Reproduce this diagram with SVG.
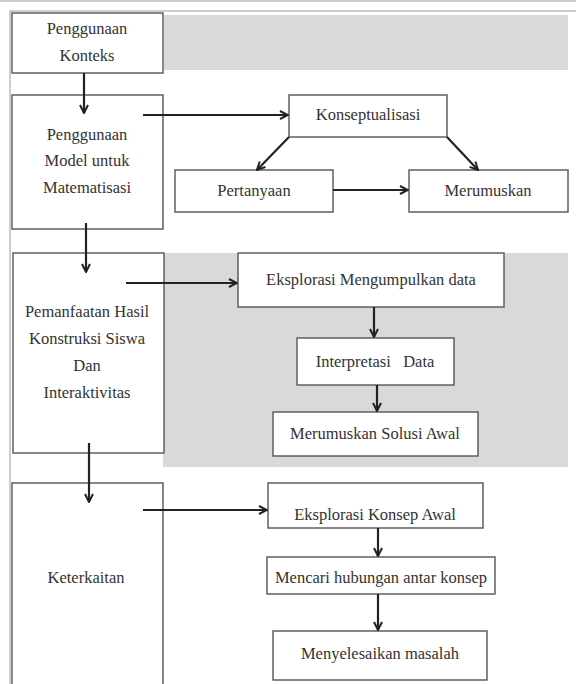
<svg xmlns="http://www.w3.org/2000/svg" width="576" height="684" viewBox="0 0 576 684">
<defs>
<style>
.box{fill:#fff;stroke:#555;stroke-width:1.4}
.band{fill:#d9d9d9;stroke:none}
.frame{stroke:#bdbdbd;stroke-width:1.5;fill:none}
text{font-family:"Liberation Serif",serif;font-size:16.5px;fill:#333;text-anchor:middle}
.c{stroke:#222;stroke-width:2.2;fill:none;marker-end:url(#ah)}
</style>
<marker id="ah" viewBox="0 0 10 10" markerWidth="10" markerHeight="10" refX="9" refY="5" orient="auto" markerUnits="userSpaceOnUse">
<path d="M1,1 L9,5 L1,9" fill="none" stroke="#222" stroke-width="2"/>
</marker>
</defs>
<rect width="576" height="684" fill="#fff"/>
<g id="frame">
<line class="frame" x1="0" y1="1" x2="576" y2="1" stroke="#d0d0d0"/>
<line class="frame" x1="10" y1="11" x2="576" y2="11"/>
<line class="frame" x1="10" y1="11" x2="10" y2="684"/>
</g>
<g id="bands">
<rect class="band" x="164" y="15" width="404" height="55"/>
<rect class="band" x="163" y="253" width="405" height="214"/>
</g>
<g id="n1"><rect class="box" x="12" y="13" width="151" height="60"/>
<text x="87" y="34">Penggunaan</text><text x="87" y="61">Konteks</text></g>
<g id="n2"><rect class="box" x="12" y="95" width="151" height="134"/>
<text x="87" y="140">Penggunaan</text><text x="87" y="166">Model untuk</text><text x="87" y="193">Matematisasi</text></g>
<g id="n3"><rect class="box" x="13" y="253" width="151" height="200"/>
<text x="87" y="317">Pemanfaatan Hasil</text><text x="87" y="344">Konstruksi Siswa</text><text x="87" y="371">Dan</text><text x="87" y="398">Interaktivitas</text></g>
<g id="n4"><rect class="box" x="12" y="483" width="151" height="210"/>
<text x="86" y="583">Keterkaitan</text></g>
<g id="n5"><rect class="box" x="289" y="95" width="158" height="42"/>
<text x="368" y="120">Konseptualisasi</text></g>
<g id="n6"><rect class="box" x="175" y="170" width="158" height="42"/>
<text x="254" y="196">Pertanyaan</text></g>
<g id="n7"><rect class="box" x="409" y="170" width="159" height="42"/>
<text x="488" y="196">Merumuskan</text></g>
<g id="n8"><rect class="box" x="238" y="253" width="266" height="54"/>
<text x="371" y="285">Eksplorasi Mengumpulkan data</text></g>
<g id="n9"><rect class="box" x="297" y="338" width="157" height="47"/>
<text x="375" y="367" xml:space="preserve">Interpretasi   Data</text></g>
<g id="n10"><rect class="box" x="273" y="412" width="205" height="44"/>
<text x="375" y="439">Merumuskan Solusi Awal</text></g>
<g id="n11"><rect class="box" x="268" y="483" width="215" height="45"/>
<text x="375" y="520">Eksplorasi Konsep Awal</text></g>
<g id="n12"><rect class="box" x="267" y="557" width="228" height="37"/>
<text x="381" y="583">Mencari hubungan antar konsep</text></g>
<g id="n13"><rect class="box" x="273" y="631" width="214" height="49"/>
<text x="380" y="659">Menyelesaikan masalah</text></g>
<g id="connectors">
<line class="c" x1="84" y1="73" x2="84" y2="113"/>
<line class="c" x1="143" y1="115" x2="288" y2="115"/>
<line class="c" x1="289" y1="137" x2="257" y2="170"/>
<line class="c" x1="447" y1="137" x2="478" y2="170"/>
<line class="c" x1="333" y1="190" x2="408" y2="190"/>
<line class="c" x1="86" y1="223" x2="86" y2="272"/>
<line class="c" x1="126" y1="283" x2="237" y2="283"/>
<line class="c" x1="374" y1="307" x2="374" y2="337"/>
<line class="c" x1="377" y1="385" x2="377" y2="411"/>
<line class="c" x1="89" y1="443" x2="89" y2="502"/>
<line class="c" x1="143" y1="510" x2="267" y2="510"/>
<line class="c" x1="378" y1="528" x2="378" y2="556"/>
<line class="c" x1="378" y1="594" x2="378" y2="630"/>
</g>
</svg>
